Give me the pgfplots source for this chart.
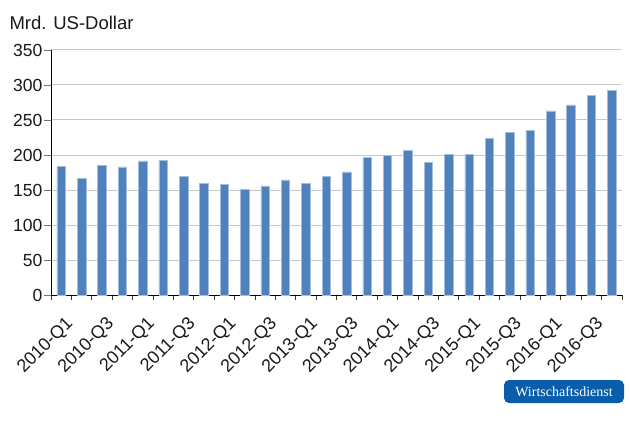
\documentclass[border=0pt]{standalone}
\usepackage{fontspec}
\setmainfont{Liberation Sans}
\newfontfamily\seriffont{Liberation Serif}
\usepackage{pgfplots}
\pgfplotsset{compat=1.18}
\definecolor{barblue}{RGB}{79,129,189}
\definecolor{baredge}{RGB}{165,190,222}
\definecolor{gridgray}{RGB}{200,200,200}
\definecolor{badgeblue}{RGB}{8,94,170}
\begin{document}
\begin{tikzpicture}
\useasboundingbox (0,0) rectangle (630pt,421pt);
\begin{axis}[
  at={(51pt,126pt)}, anchor=south west,
  scale only axis, width=571pt, height=245pt,
  xmin=-0.5, xmax=27.5, ymin=0, ymax=350,
  axis x line*=bottom, axis y line*=left,
  axis line style={black, line width=0.9pt},
  ytick={0,50,...,350},
  ymajorgrids, grid style={gridgray, line width=1pt},
  xtick={0,2,...,26},
  xticklabels={2010-Q1,2010-Q3,2011-Q1,2011-Q3,2012-Q1,2012-Q3,2013-Q1,2013-Q3,2014-Q1,2014-Q3,2015-Q1,2015-Q3,2016-Q1,2016-Q3},
  minor xtick={-0.5,0.5,...,27.5},
  tick align=outside,
  major tick length=7pt, minor tick length=5pt,
  major x tick style={draw=none},
  minor x tick style={black!80, line width=0.8pt},
  major y tick style={black!55, line width=0.8pt},
  /pgf/number format/assume math mode=true,
  ticklabel style={font=\fontsize{17.5}{20}\selectfont, text=black!90},
  yticklabel style={inner sep=1.5pt},
  xticklabel style={xshift=3.5pt, yshift=-11.5pt, rotate=45, anchor=north east, inner sep=1pt, font=\fontsize{18}{20}\selectfont},
  enlargelimits=false,
]
\addplot[ybar, bar width=8.5pt, fill=barblue, draw=baredge, line width=0.6pt] coordinates {
(0,184) (1,167) (2,185) (3,183) (4,191.5) (5,192) (6,170) (7,160)
(8,158) (9,151) (10,156) (11,164.5) (12,160) (13,170) (14,176) (15,197)
(16,199) (17,207) (18,190) (19,200.5) (20,200.5) (21,224) (22,232.5) (23,235)
(24,263) (25,271.5) (26,285) (27,292)
};
\end{axis}
\node[anchor=base west, font=\fontsize{18.5}{22}\selectfont, inner sep=0, text=black!90] at (9.3pt,391.7pt) {Mrd. US-Dollar};
\node[fill=badgeblue, rounded corners=5pt, minimum width=120pt, minimum height=23pt, text=white, font=\seriffont\fontsize{14}{16}\selectfont, inner sep=0] at (564pt,29.5pt) {Wirtschaftsdienst};
\end{tikzpicture}
\end{document}
